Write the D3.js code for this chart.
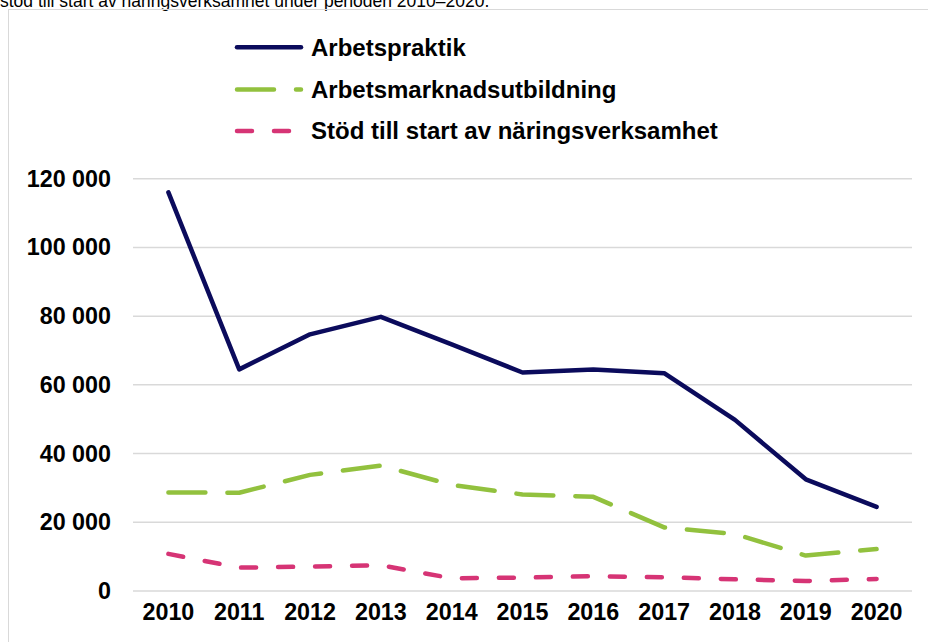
<!DOCTYPE html>
<html><head><meta charset="utf-8">
<script src="https://cdn.jsdelivr.net/npm/d3@7"></script>
<style>
html,body{margin:0;padding:0;background:#fff;}
svg{display:block;}
text{font-family:"Liberation Sans",Arial,sans-serif;}
</style></head>
<body>
<svg id="chart" width="928" height="642"></svg>
<script>
const years = ["2010","2011","2012","2013","2014","2015","2016","2017","2018","2019","2020"];
const arbetspraktik = [116000, 64500, 74700, 79800, 71800, 63600, 64500, 63400, 49800, 32500, 24500];
const utbildning = [28700, 28600, 33800, 36500, 30900, 28100, 27400, 18500, 16600, 10300, 12200];
const naring = [10800, 6800, 7100, 7500, 3700, 3900, 4300, 4000, 3400, 2900, 3500];
const seriesNames = ["Arbetspraktik", "Arbetsmarknadsutbildning", "Stöd till start av näringsverksamhet"];
const yTicks = [0, 20000, 40000, 60000, 80000, 100000, 120000];
const caption = "stöd till start av näringsverksamhet under perioden 2010–2020.";

const svg = d3.select("#chart");
const locale = d3.formatLocale({decimal: ",", thousands: "\u00a0", grouping: [3], currency: ["", " kr"]});
const fmt = locale.format(",d");

// caption (cut off at top, as in the reference)
svg.append("text").attr("x", 0).attr("y", 6.5)
  .attr("font-size", 17.5).attr("fill", "#000").text(caption);

// chart border
svg.append("rect").attr("x", 8.5).attr("y", 9.5).attr("width", 940).attr("height", 660)
  .attr("fill", "none").attr("stroke", "#d9d9d9").attr("stroke-width", 1);

const x = d3.scaleBand().domain(years).range([133, 912]);
const y = d3.scaleLinear().domain([0, 120000]).range([591, 178.7]);
const cx = d => x(d) + x.bandwidth() / 2;

// gridlines
svg.append("g").selectAll("line").data(yTicks).join("line")
  .attr("x1", 133).attr("x2", 912)
  .attr("y1", d => y(d)).attr("y2", d => y(d))
  .attr("stroke", "#d9d9d9").attr("stroke-width", 1.5);

// y axis labels
const yAxis = d3.axisLeft(y).tickValues(yTicks).tickFormat(fmt).tickSize(0).tickPadding(0);
const gy = svg.append("g").attr("transform", "translate(111,0)").call(yAxis);
gy.select(".domain").remove();
gy.selectAll("text").attr("font-size", 23.3).attr("font-weight", "bold").attr("fill", "#000")
  .attr("font-family", '"Liberation Sans",Arial,sans-serif');

// x axis labels
const xAxis = d3.axisBottom(x).tickSize(0).tickPadding(0);
const gx = svg.append("g").attr("transform", "translate(0,603)").call(xAxis);
gx.select(".domain").remove();
gx.selectAll("text").attr("font-size", 23.3).attr("font-weight", "bold").attr("fill", "#000")
  .attr("font-family", '"Liberation Sans",Arial,sans-serif');

const series = [
  {name: seriesNames[0], values: arbetspraktik, color: "#0b0b5c", dash: null},
  {name: seriesNames[1], values: utbildning, color: "#92c13e", dash: "37,22"},
  {name: seriesNames[2], values: naring, color: "#d63475", dash: "15,22"}
];

const line = d3.line().x((d, i) => cx(years[i])).y(d => y(d));
series.forEach(s => {
  svg.append("path").attr("d", line(s.values))
    .attr("fill", "none").attr("stroke", s.color).attr("stroke-width", 4.5)
    .attr("stroke-linecap", "round").attr("stroke-linejoin", "round")
    .attr("stroke-dasharray", s.dash);
});

// legend
const legendY = [47.3, 89.5, 131];
series.forEach((s, i) => {
  const g = svg.append("g").attr("transform", `translate(0,${legendY[i]})`);
  g.append("line").attr("x1", 237).attr("x2", 301).attr("y1", 0).attr("y2", 0)
    .attr("stroke", s.color).attr("stroke-width", 4.5).attr("stroke-linecap", "round")
    .attr("stroke-dasharray", s.dash);
  g.append("text").attr("x", 311).attr("y", 0).attr("dy", "0.35em")
    .attr("font-size", 24).attr("font-weight", "bold").attr("fill", "#000").text(s.name);
});
</script>
</body></html>
